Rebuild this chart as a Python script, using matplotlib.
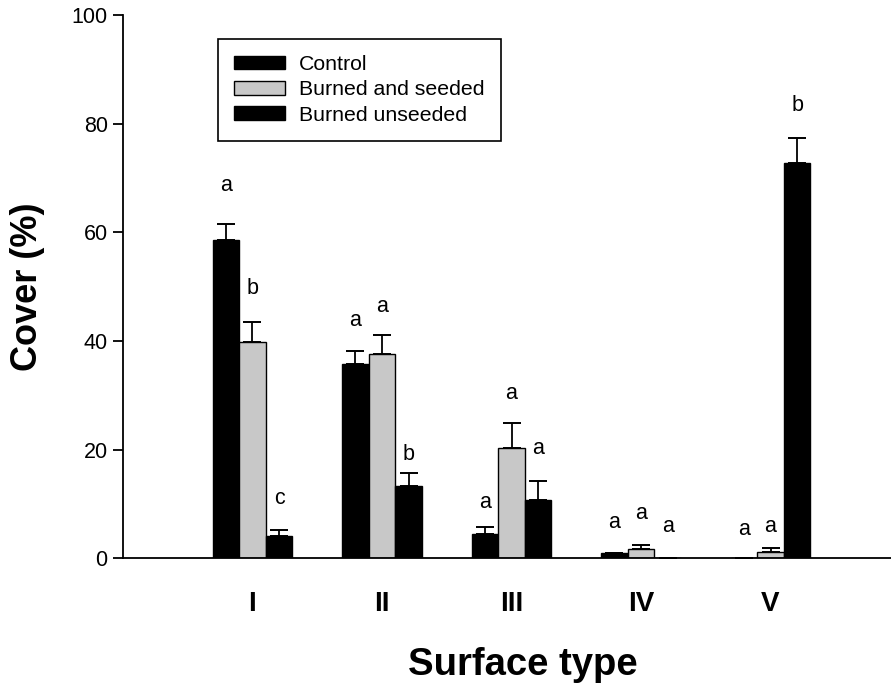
import numpy as np
import matplotlib
matplotlib.use('Agg')
import matplotlib.pyplot as plt

plt.rcParams.update({
    'font.family': ['Liberation Sans', 'DejaVu Sans'],
    'axes.linewidth': 1.3,
})

# ── data ─────────────────────────────────────────────────────────────────────
surface_types = ['I', 'II', 'III', 'IV', 'V']
series_names  = ['Control', 'Burned and seeded', 'Burned unseeded']

control      = [58.6, 35.7, 4.4, 1.0, 0.0]
control_err  = [2.9, 2.4, 1.3, 0.0, 0.0]
seeded       = [39.8, 37.5, 20.2, 1.6, 1.2]
seeded_err   = [3.7, 3.6, 4.6, 0.9, 0.6]
unseeded     = [4.1, 13.3, 10.7, 0.0, 72.7]
unseeded_err = [1.1, 2.3, 3.5, 0.0, 4.6]

control_letters  = ['a', 'a', 'a', 'a', 'a']
seeded_letters   = ['b', 'a', 'a', 'a', 'a']
unseeded_letters = ['c', 'b', 'a', 'a', 'b']
control_ly  = [68.7, 43.8, 10.3, 6.6, 5.3]
seeded_ly   = [49.6, 46.4, 30.4, 8.2, 5.9]
unseeded_ly = [11.0, 19.0, 20.2, 5.8, 83.3]

# ── figure ───────────────────────────────────────────────────────────────────
fig = plt.figure(figsize=(8.91, 6.89), dpi=100)
ax = fig.add_axes([0.138, 0.190, 0.862, 0.788])

x = np.arange(len(surface_types))
w = 0.205
colors = ['black', '#c8c8c8', 'black']
values = [control, seeded, unseeded]
errs   = [control_err, seeded_err, unseeded_err]
letters = [control_letters, seeded_letters, unseeded_letters]
letter_y = [control_ly, seeded_ly, unseeded_ly]

for k in range(3):
    xs = x + (k - 1) * w
    ax.bar(xs, values[k], width=w, color=colors[k], edgecolor='black',
           linewidth=1.0, label=series_names[k], zorder=2)
    ax.errorbar(xs, values[k], yerr=[np.zeros(5), errs[k]], fmt='none',
                ecolor='black', elinewidth=1.3, capsize=6.5, capthick=1.4,
                zorder=3)
    for xi, lt, ly in zip(xs, letters[k], letter_y[k]):
        ax.text(xi, ly, lt, ha='center', va='center', fontsize=15.5)

ax.set_xlim(-1.0, 4.93)
ax.set_ylim(0, 100)
ax.set_yticks([0, 20, 40, 60, 80, 100])
ax.tick_params(axis='y', direction='out', length=7, width=1.3,
               labelsize=15.5, pad=4)
ax.set_xticks(x)
ax.set_xticklabels(surface_types, fontsize=20, fontweight='bold')
ax.tick_params(axis='x', length=0, pad=24)

ax.spines['top'].set_visible(False)
ax.spines['right'].set_visible(False)

ax.set_ylabel('Cover (%)', fontsize=26, fontweight='bold')
ax.yaxis.set_label_coords(-0.102, 0.5)
ax.set_xlabel('Surface type', fontsize=27.5, fontweight='bold')
ax.xaxis.set_label_coords(0.52, -0.163)

leg = ax.legend(loc='upper left', bbox_to_anchor=(0.124, 0.956),
                fontsize=15.3, frameon=True, fancybox=False, shadow=False,
                framealpha=1, edgecolor='black', borderpad=0.75,
                borderaxespad=0, handlelength=2.4, handleheight=0.62,
                handletextpad=0.67, labelspacing=0.3)
leg.get_frame().set_linewidth(1.2)

fig.savefig('out.png', dpi=100, facecolor='white')
